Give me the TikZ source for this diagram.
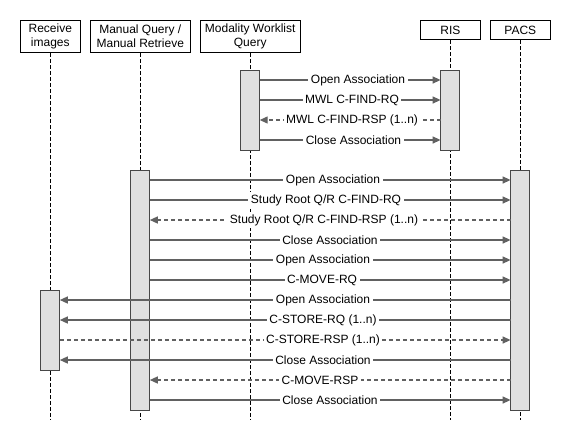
\documentclass[tikz,border=0pt]{standalone}
\usepackage{fontspec}
\setmainfont{Liberation Sans}
\usetikzlibrary{arrows.meta}
\tikzset{>={Triangle[length=8pt,width=7pt]}, line width=1.2pt}
\tikzset{
  head/.style={draw=black,line width=0.8pt,fill=white,align=center,anchor=north,
    inner sep=0pt,font=\fontsize{12}{14}\selectfont},
  life/.style={draw=black,line width=0.7pt,dash pattern=on 4pt off 2pt},
  act/.style={draw=black!72,fill=black!12,line width=1.2pt,minimum width=19pt,
    inner sep=0pt,outer sep=0pt},
  msg/.style={draw=black!62,line width=1.3pt},
  reply/.style={msg,dash pattern=on 4pt off 3pt},
  lbl/.style={fill=white,inner sep=2.5pt,font=\fontsize{12}{14}\selectfont}
}

\begin{document}
\begin{tikzpicture}[x=1pt,y=-1pt]
  \useasboundingbox (0,0) rectangle (572,440);
  \def\ybot{420}

  % heads
  \node[head,minimum width=60.5pt,minimum height=32pt] (rec) at (50.3,20) {Receive\\images};
  \node[head,minimum width=100pt,minimum height=32pt] (mq) at (140.3,20) {Manual Query /\\Manual Retrieve};
  \node[head,minimum width=100pt,minimum height=32pt] (mwl) at (250.2,20) {Modality Worklist\\Query};
  \node[head,minimum width=60.4pt,minimum height=19.3pt] (ris) at (450.4,20) {RIS};
  \node[head,minimum width=60.4pt,minimum height=19.3pt] (pacs) at (520.3,20) {PACS};

  % lifelines
  \draw[life] (rec.south) -- (rec.south |- 0,\ybot);
  \draw[life] (mq.south) -- (mq.south |- 0,\ybot);
  \draw[life] (mwl.south) -- (mwl.south |- 0,\ybot);
  \draw[life] (ris.south) -- (ris.south |- 0,\ybot);
  \draw[life] (pacs.south) -- (pacs.south |- 0,\ybot);

  % activations
  \node[act,minimum height=80pt] (mwlact) at (250.2,110.2) {};
  \node[act,minimum height=80pt] (risact) at (450.1,110.2) {};
  \node[act,minimum height=240pt] (mqact) at (140.3,290.2) {};
  \node[act,minimum height=240pt] (pacsact) at (520.1,290.2) {};
  \node[act,minimum height=80pt] (recact) at (50.3,330.2) {};

  % worklist query
  \draw[msg,->] (mwlact.east |- 0,80) -- (risact.west |- 0,80)
    node[lbl] at (358,80) {Open Association};
  \draw[msg,->] (mwlact.east |- 0,100) -- (risact.west |- 0,100)
    node[lbl] at (352,100) {MWL C-FIND-RQ};
  \draw[reply,->] (risact.west |- 0,120) -- (mwlact.east |- 0,120)
    node[lbl] at (352,120) {MWL C-FIND-RSP (1..n)};
  \draw[msg,->] (mwlact.east |- 0,140) -- (risact.west |- 0,140)
    node[lbl] at (353.5,140) {Close Association};

  % query / retrieve
  \draw[msg,->] (mqact.east |- 0,180) -- (pacsact.west |- 0,180)
    node[lbl] at (333,180) {Open Association};
  \draw[msg,->] (mqact.east |- 0,200) -- (pacsact.west |- 0,200)
    node[lbl] at (326,200) {Study Root Q/R C-FIND-RQ};
  \draw[reply,->] (pacsact.west |- 0,220) -- (mqact.east |- 0,220)
    node[lbl] at (324,220) {Study Root Q/R C-FIND-RSP (1..n)};
  \draw[msg,->] (mqact.east |- 0,240) -- (pacsact.west |- 0,240)
    node[lbl] at (330,240) {Close Association};
  \draw[msg,->] (mqact.east |- 0,260) -- (pacsact.west |- 0,260)
    node[lbl] at (323,260) {Open Association};
  \draw[msg,->] (mqact.east |- 0,280) -- (pacsact.west |- 0,280)
    node[lbl] at (322,280) {C-MOVE-RQ};

  % store
  \draw[msg,->] (pacsact.west |- 0,300) -- (recact.east |- 0,300)
    node[lbl] at (323,300) {Open Association};
  \draw[msg,->] (pacsact.west |- 0,320) -- (recact.east |- 0,320)
    node[lbl] at (323,320) {C-STORE-RQ (1..n)};
  \draw[reply,->] (recact.east |- 0,340) -- (pacsact.west |- 0,340)
    node[lbl] at (323,340) {C-STORE-RSP (1..n)};
  \draw[msg,->] (pacsact.west |- 0,360) -- (recact.east |- 0,360)
    node[lbl] at (323,360) {Close Association};
  \draw[reply,->] (pacsact.west |- 0,380) -- (mqact.east |- 0,380)
    node[lbl] at (320,380) {C-MOVE-RSP};
  \draw[msg,->] (mqact.east |- 0,400) -- (pacsact.west |- 0,400)
    node[lbl] at (330,400) {Close Association};
\end{tikzpicture}
\end{document}
